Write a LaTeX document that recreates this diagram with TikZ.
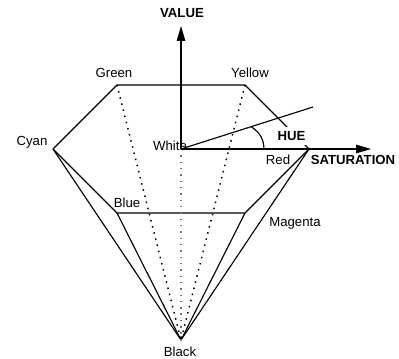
\documentclass[tikz,border=0pt]{standalone}
\usepackage{fontspec}
\usepackage{xcolor}
\setmainfont{Liberation Sans}
\usetikzlibrary{arrows.meta}
\tikzset{
  edgeline/.style={line width=0.65pt},
  dotline/.style={line width=0.85pt, dash pattern=on 0.85pt off 2.75pt},
  axisline/.style={-{Triangle[length=9pt,width=4.4pt]}, line width=1.7pt},
  cornerlabel/.style={font=\fontsize{7.5}{9}\selectfont, inner sep=0pt},
  axislabel/.style={font=\fontsize{7.5}{9}\selectfont\bfseries, inner sep=0pt}
}

\begin{document}
\begin{tikzpicture}[line join=round]
  \useasboundingbox (0,0) rectangle (7.98,7.16);

  % corners of the double cone
  \coordinate (white) at (3.62,4.18);
  \coordinate (green) at (2.34,5.46);
  \coordinate (yellow) at (4.90,5.46);
  \coordinate (cyan) at (1.06,4.18);
  \coordinate (red) at (6.18,4.18);
  \coordinate (blue) at (2.34,2.90);
  \coordinate (magenta) at (4.90,2.90);
  \coordinate (black) at (3.62,0.36);
  \coordinate (valuetip) at (3.62,6.66);
  \coordinate (sattip) at (7.44,4.18);
  \coordinate (huetip) at (6.26,5.02);
  \coordinate (arcstart) at (5.28,4.18);
  \coordinate (arcend) at (5.03,4.62);

  % outline
  \draw[edgeline] (cyan) -- (green) -- (yellow) -- (red);
  \draw[edgeline] (cyan) -- (blue) -- (magenta) -- (red);
  \draw[edgeline] (cyan) -- (black) -- (red);
  \draw[edgeline] (blue) -- (black) -- (magenta);

  % hidden edges
  \draw[dotline] (green) -- (black);
  \draw[dotline] (yellow) -- (black);
  \draw[dotline, black!55] (white) -- (black);

  % labels
  \node[cornerlabel] (greenlabel) at (2.28,5.71) {Green};
  \node[cornerlabel] (yellowlabel) at (5.00,5.70) {Yellow};
  \node[cornerlabel] (cyanlabel) at (0.64,4.31) {Cyan};
  \node[cornerlabel] (whitelabel) at (3.40,4.24) {White};
  \node[cornerlabel] (redlabel) at (5.56,3.96) {Red};
  \node[cornerlabel] (bluelabel) at (2.54,3.11) {Blue};
  \node[cornerlabel] (magentalabel) at (5.90,2.70) {Magenta};
  \node[cornerlabel] (blacklabel) at (3.60,0.12) {Black};
  \node[axislabel] (valuelabel) at (3.64,6.90) {VALUE};
  \node[axislabel] (satlabel) at (7.06,3.96) {SATURATION};
  \node[axislabel, fill=white, inner xsep=2pt, inner ysep=2.5pt] (huelabel) at (5.83,4.44) {HUE};

  % axes and hue angle
  \draw[edgeline] (white) -- (huetip);
  \draw[edgeline] (arcstart) to[bend right=28] (arcend);
  \draw[axisline] (white) -- (valuetip);
  \draw[axisline] (white) -- (sattip);
\end{tikzpicture}
\end{document}
